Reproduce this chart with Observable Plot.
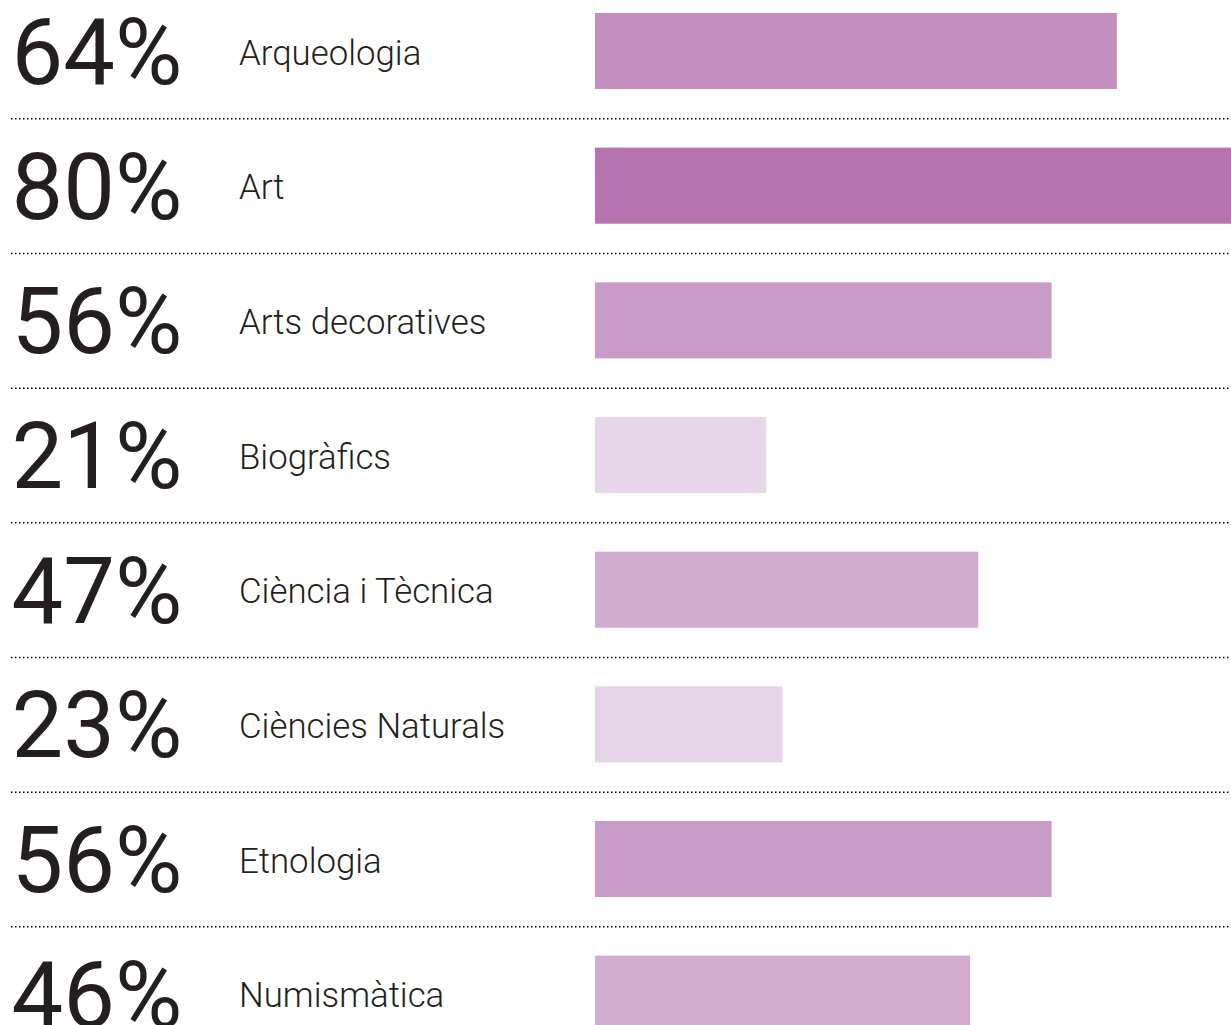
<!DOCTYPE html>
<html><head><meta charset="utf-8">
<script src="https://cdn.jsdelivr.net/npm/d3@7"></script>
<script src="https://cdn.jsdelivr.net/npm/@observablehq/plot@0.6"></script>
<style>html,body{margin:0;padding:0;background:#fff;overflow:hidden} svg{display:block}</style>
</head><body><div id="chart"></div>
<script>
const categories = ["Arqueologia","Art","Arts decoratives","Biogràfics","Ciència i Tècnica","Ciències Naturals","Etnologia","Numismàtica"];
const values = [64, 80, 56, 21, 47, 23, 56, 46];
const colorRange = ["#e7d6e9", "#b574b0"];

const data = categories.map((c, i) => ({category: c, value: values[i], label: values[i] + "%"}));
const step = 134.67;
const chart = Plot.plot({
  width: 1231, height: 1077,
  marginLeft: 11, marginRight: 0, marginTop: 0, marginBottom: 0,
  style: {fontFamily: "Roboto", background: "#fff"},
  x: {domain: [0, 78], range: [595, 1231], axis: null},
  y: {type: "band", domain: categories, range: [51 - step / 2, 51 - step / 2 + 8 * step], padding: 0, round: false, axis: null},
  color: {type: "linear", domain: [21, 80], range: colorRange, interpolate: "rgb"},
  marks: [
    Plot.barX(data, {x: "value", y: "category", fill: "value", insetTop: 29.3, insetBottom: 29.3, clip: true}),
    Plot.ruleY(data.slice(0, -1), {y: "category", dy: step / 2, stroke: "#000", strokeWidth: 1.5, strokeDasharray: "1.5,2.5"}),
    Plot.text(data, {y: "category", text: "label", frameAnchor: "left", textAnchor: "start", dx: 0, dy: 3, fontSize: 92, fontWeight: 400, fill: "#231f20"}),
    Plot.text(data, {y: "category", text: "category", frameAnchor: "left", textAnchor: "start", dx: 227.5, dy: 1.9, fontSize: 34.8, fontWeight: 300, fill: "#231f20"})
  ]
});
document.getElementById("chart").appendChild(chart);
</script>
</body></html>
